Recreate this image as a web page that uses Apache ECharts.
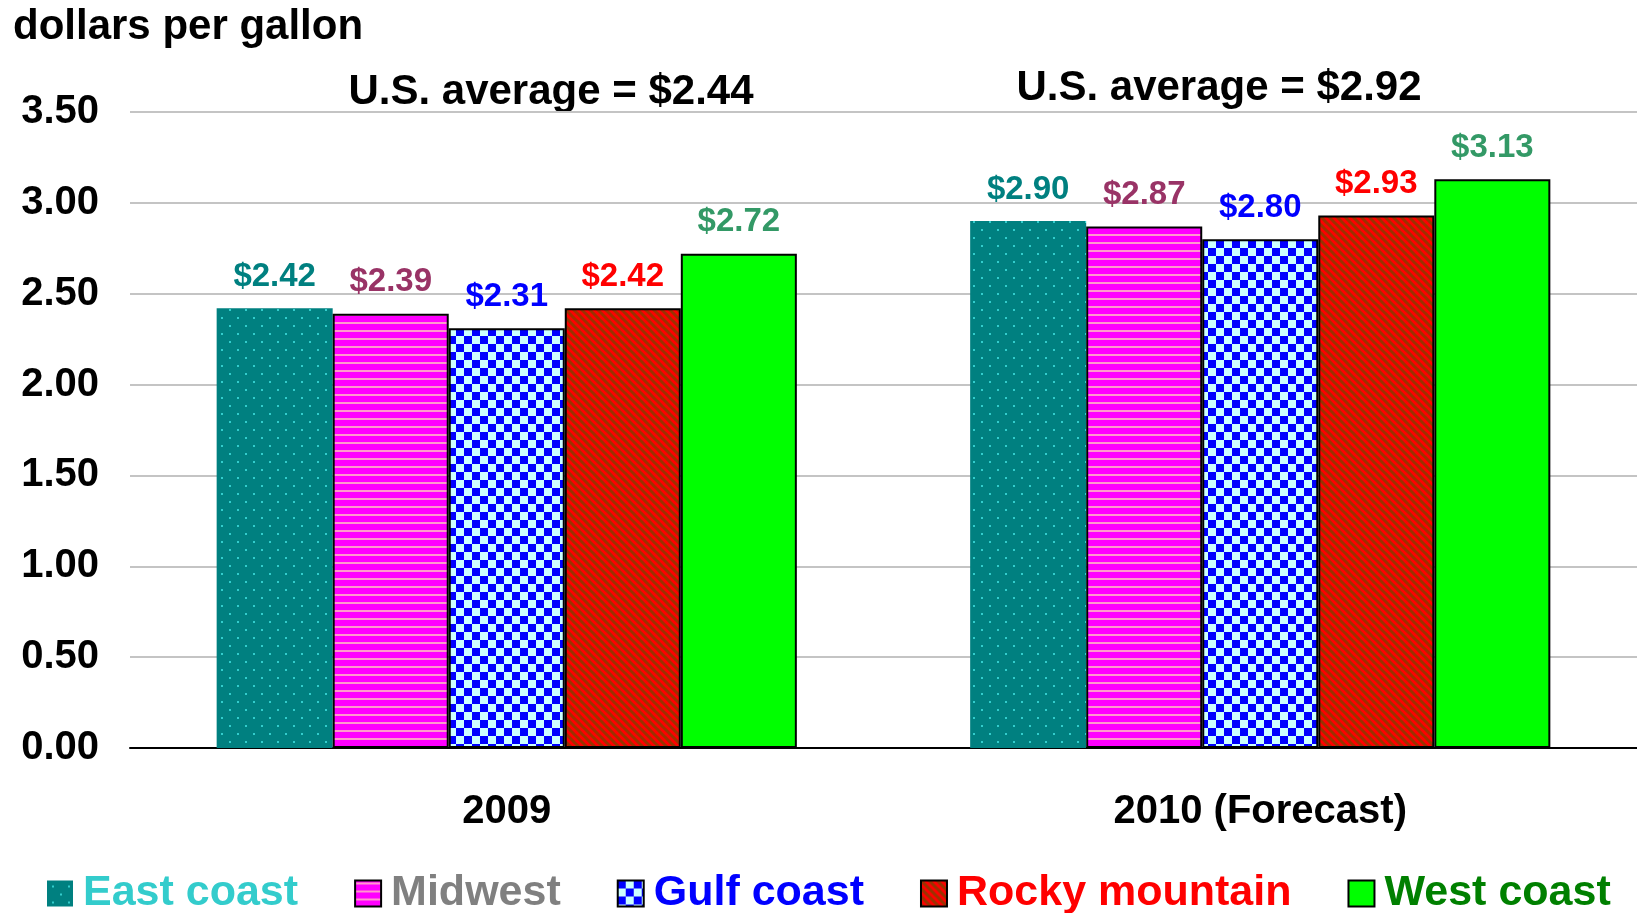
<!DOCTYPE html>
<html>
<head>
<meta charset="utf-8">
<script src="https://cdn.jsdelivr.net/npm/echarts@6/dist/echarts.min.js"></script>
<style>
  html, body { margin: 0; padding: 0; background: #fff; }
  #chart { width: 1637px; height: 913px; }
</style>
</head>
<body>
<div id="chart"></div>
<script>
// data
const categories = ['2009', '2010 (Forecast)'];
const regions = ['East coast', 'Midwest', 'Gulf coast', 'Rocky mountain', 'West coast'];
const eastCoast = [2.42, 2.90];
const midwest = [2.39, 2.87];
const gulfCoast = [2.31, 2.80];
const rockyMountain = [2.42, 2.93];
const westCoast = [2.72, 3.13];
const usAverage = [2.44, 2.92];
const yMin = 0;
const yMax = 3.5;
const yStep = 0.5;

const FONT = '"Liberation Sans", Arial, Helvetica, sans-serif';

// small canvas tiles used as bar fill patterns
function tile(w, h, draw) {
  const c = document.createElement('canvas');
  c.width = w;
  c.height = h;
  draw(c.getContext('2d'));
  return { image: c, repeat: 'repeat' };
}

const fills = [
  // dotted teal (staggered dots)
  tile(16, 16, (ctx) => {
    ctx.fillStyle = '#008080';
    ctx.fillRect(0, 0, 16, 16);
    ctx.fillStyle = '#33cccc';
    ctx.fillRect(5, 5, 2, 2);
    ctx.fillRect(13, 13, 2, 2);
  }),
  // magenta with pink lines
  tile(8, 8, (ctx) => {
    ctx.fillStyle = '#ff00ff';
    ctx.fillRect(0, 0, 8, 8);
    ctx.fillStyle = '#ff99cc';
    ctx.fillRect(0, 2, 8, 2);
  }),
  // checkerboard
  tile(16, 16, (ctx) => {
    ctx.fillStyle = '#ccffff';
    ctx.fillRect(0, 0, 16, 16);
    ctx.fillStyle = '#0000ff';
    ctx.fillRect(0, 0, 8, 8);
    ctx.fillRect(8, 8, 8, 8);
  }),
  // red with dark diagonal stripes
  tile(8, 8, (ctx) => {
    ctx.fillStyle = '#ff0000';
    ctx.fillRect(0, 0, 8, 8);
    ctx.strokeStyle = '#993300';
    ctx.lineWidth = 3;
    for (let o = -8; o <= 8; o += 8) {
      ctx.beginPath();
      ctx.moveTo(o - 1, -1);
      ctx.lineTo(o + 9, 9);
      ctx.stroke();
    }
  }),
  '#00ff00',
];

const labelColors = ['#008080', '#993366', '#0000ff', '#ff0000', '#339966'];
const legendColors = ['#33cccc', '#808080', '#0000ff', '#ff0000', '#008000'];
const seriesValues = [eastCoast, midwest, gulfCoast, rockyMountain, westCoast];

const myChart = echarts.init(document.getElementById('chart'));

const option = {
  animation: false,
  grid: { left: 130, right: 0, top: 112, bottom: 165, containLabel: false },
  xAxis: {
    type: 'category',
    data: categories,
    axisLine: { lineStyle: { color: '#000', width: 2 } },
    axisTick: { show: false },
    axisLabel: {
      margin: 44,
      fontSize: 40,
      fontWeight: 'bold',
      color: '#000',
      fontFamily: FONT,
    },
  },
  yAxis: {
    type: 'value',
    min: yMin,
    max: yMax,
    interval: yStep,
    axisLine: { show: false },
    axisTick: { show: false },
    splitLine: { lineStyle: { color: '#c4c4c4', width: 2 } },
    axisLabel: {
      margin: 31,
      fontSize: 40,
      fontWeight: 'bold',
      color: '#000',
      fontFamily: FONT,
      formatter: (v) => v.toFixed(2),
    },
  },
  legend: {
    left: 47,
    top: 872,
    width: 1620,
    padding: 0,
    itemWidth: 26,
    itemHeight: 26,
    itemGap: 56,
    icon: 'rect',
    textStyle: {
      fontSize: 43,
      fontWeight: 'bold',
      fontFamily: FONT,
      padding: [0, 0, 0, 5],
    },
    data: regions.map((name, i) => ({ name: name, textStyle: { color: legendColors[i] } })),
  },
  graphic: [
    {
      type: 'text',
      left: 13,
      top: 6,
      style: {
        text: 'dollars per gallon',
        fontSize: 42,
        fontWeight: 'bold',
        fontFamily: FONT,
        fill: '#000',
      },
    },
  ].concat(usAverage.map((v, i) => ({
    type: 'text',
    x: [551, 1219][i],
    y: [92, 88][i],
    style: {
      text: 'U.S. average = $' + v.toFixed(2),
      fontSize: 42,
      fontWeight: 'bold',
      fontFamily: FONT,
      fill: '#000',
      align: 'center',
      verticalAlign: 'middle',
    },
  }))),
  series: regions.map((name, i) => ({
    name: name,
    type: 'bar',
    data: seriesValues[i],
    barGap: '0%',
    barCategoryGap: '23%',
    itemStyle: {
      color: fills[i],
      borderColor: '#000',
      borderWidth: i === 0 ? 0 : 2,
    },
    label: {
      show: true,
      position: 'top',
      distance: 15,
      fontSize: 33,
      fontWeight: 'bold',
      fontFamily: FONT,
      color: labelColors[i],
      formatter: (p) => '$' + p.value.toFixed(2),
    },
  })),
};

myChart.setOption(option);
</script>
</body>
</html>
